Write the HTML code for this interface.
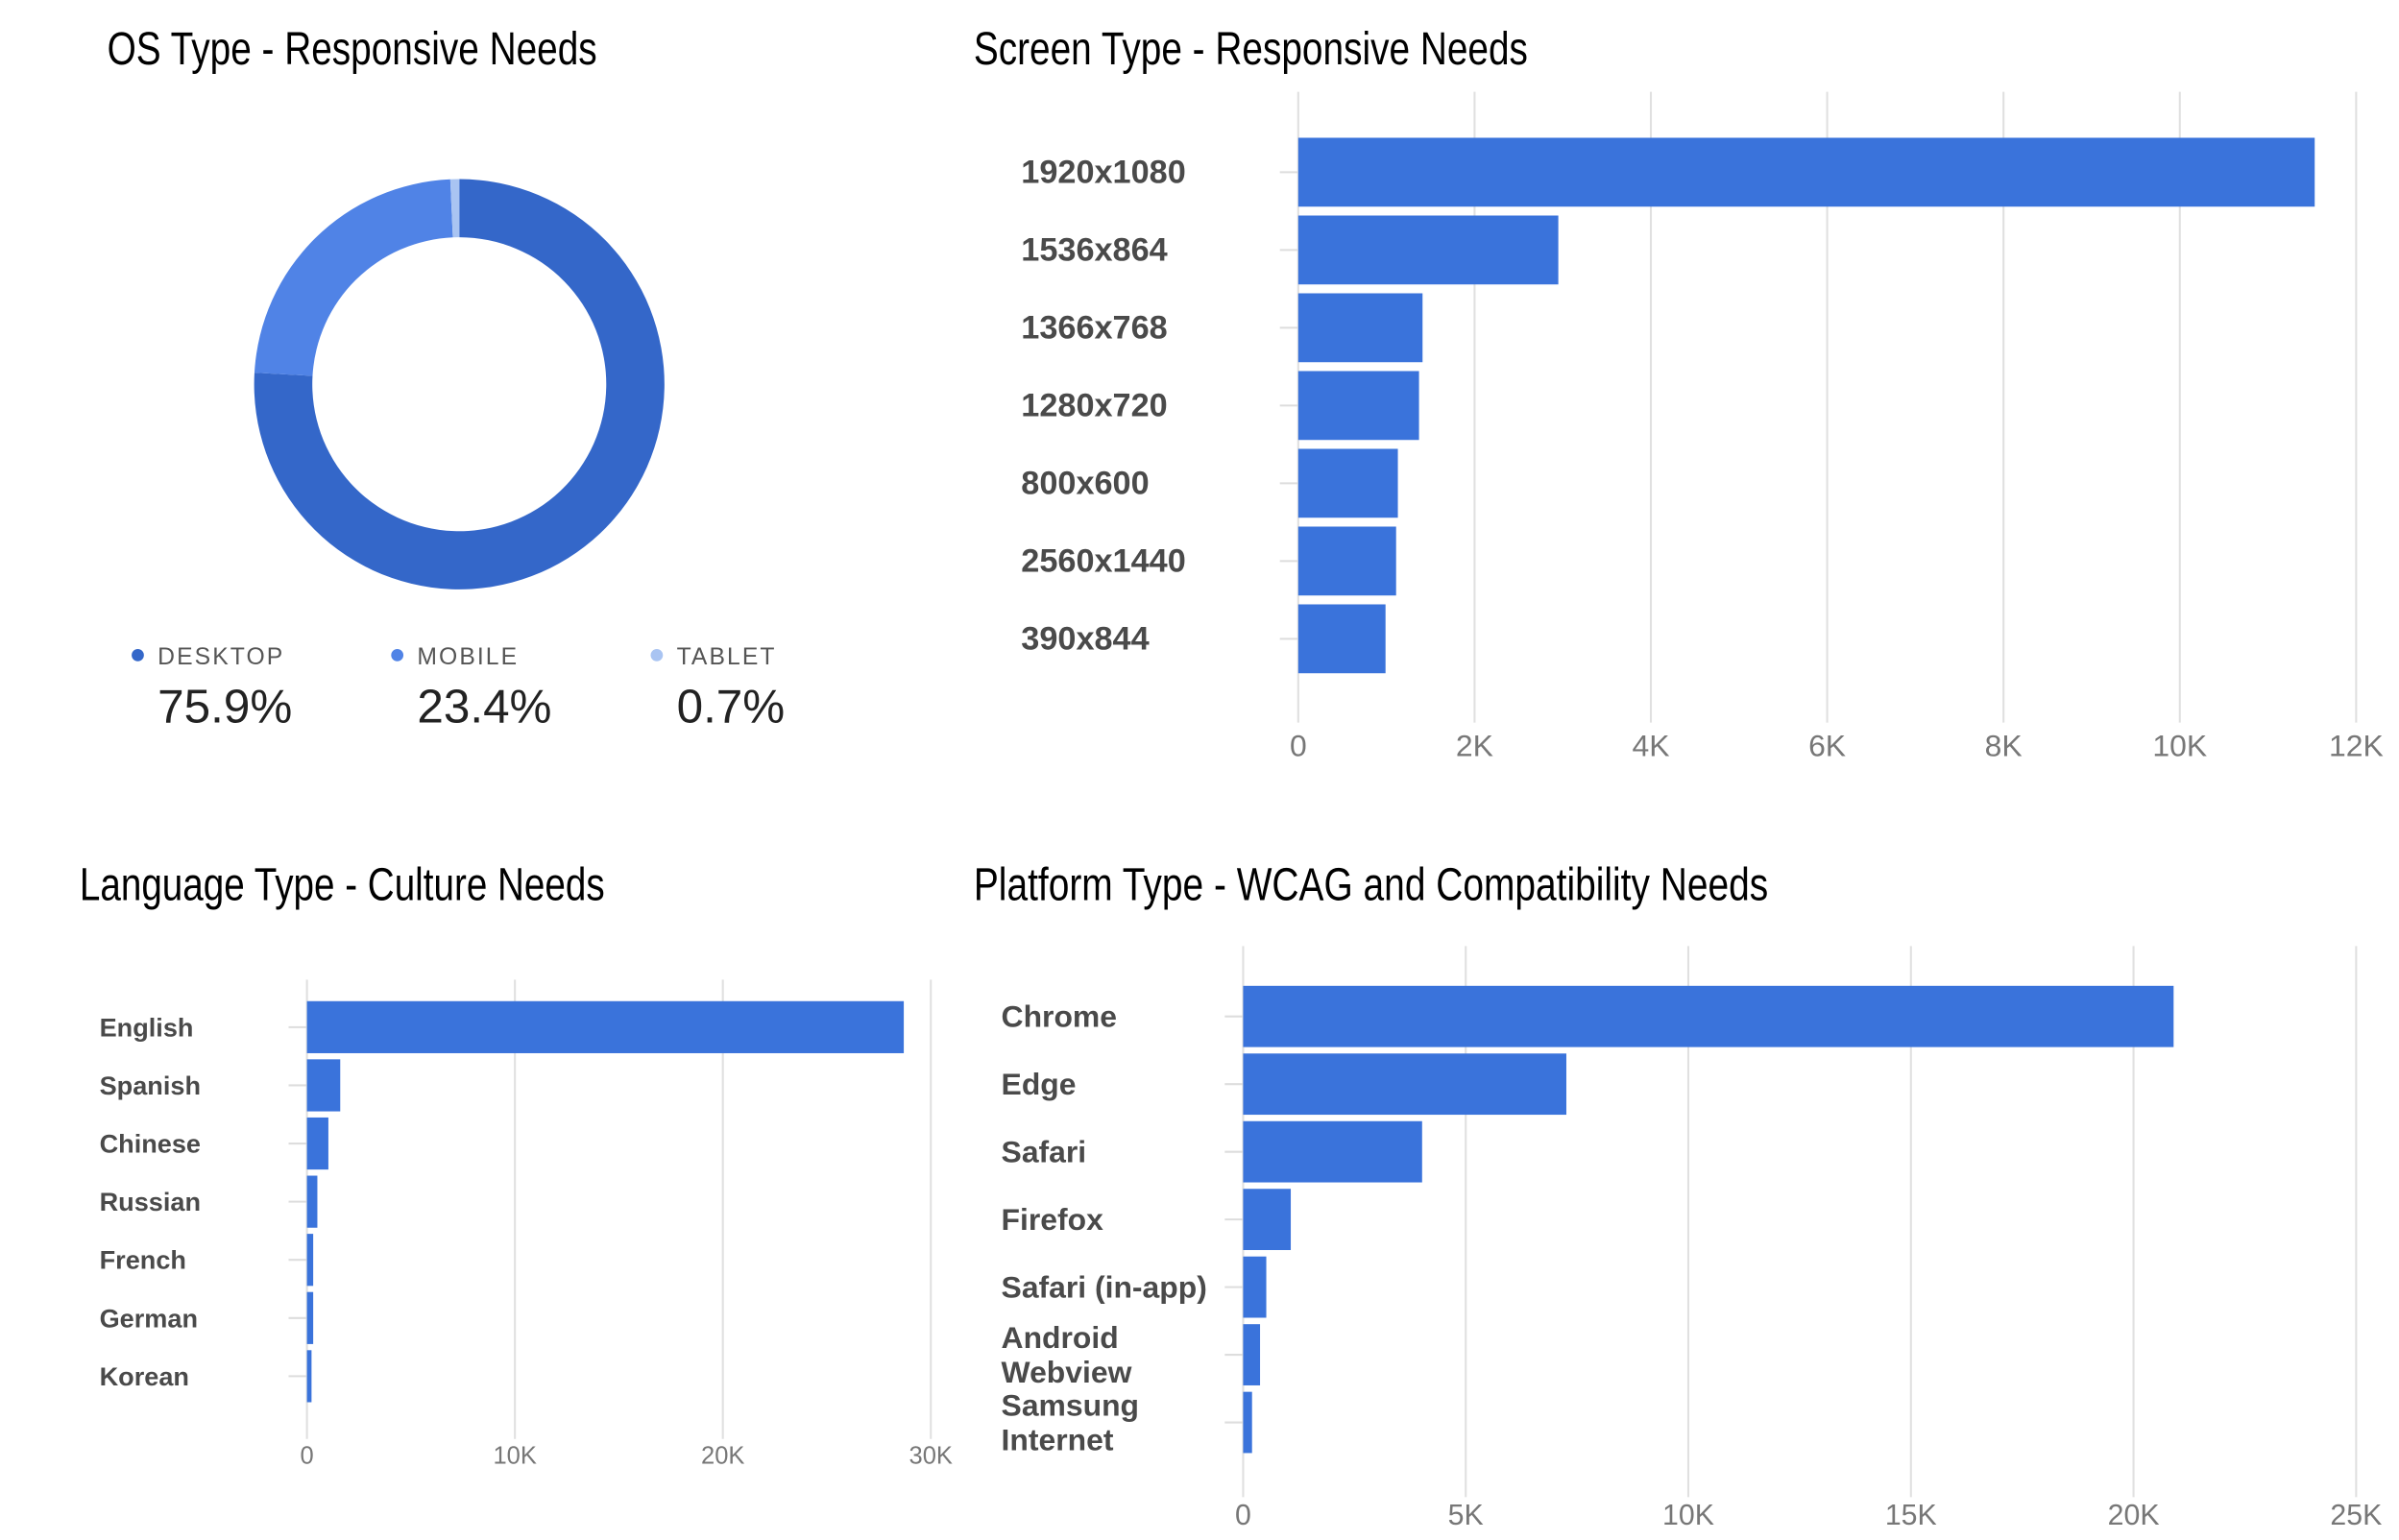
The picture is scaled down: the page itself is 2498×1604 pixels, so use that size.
<!DOCTYPE html>
<html><head><meta charset="utf-8">
<style>
html,body{margin:0;padding:0;background:#fff;}
svg{display:block;}
text{font-family:"Liberation Sans",sans-serif;}
.title{font-size:30px;fill:#000;}
.cat{fill:#4a4a4a;font-weight:bold;}
.tick{fill:#777;}
</style></head>
<body>
<svg id="s" width="2498" height="1604" viewBox="0 0 1567 1006" preserveAspectRatio="none" xmlns="http://www.w3.org/2000/svg">
<text class="title" x="70" y="42" textLength="320" lengthAdjust="spacingAndGlyphs">OS Type - Responsive Needs</text>
<text class="title" x="636" y="42" textLength="362" lengthAdjust="spacingAndGlyphs">Screen Type - Responsive Needs</text>
<text class="title" x="52" y="588" textLength="343" lengthAdjust="spacingAndGlyphs">Language Type - Culture Needs</text>
<text class="title" x="636" y="588" textLength="519" lengthAdjust="spacingAndGlyphs">Platform Type - WCAG and Compatibility Needs</text>
</svg>
<script>
const osLabels=["DESKTOP","MOBILE","TABLET"];
const osValues=[75.9,23.4,0.7];
const osColors=["#3467c9","#5083e6","#a9c4f2"];

const screenCats=["1920x1080","1536x864","1366x768","1280x720","800x600","2560x1440","390x844"];
const screenVals=[11530,2950,1410,1370,1130,1110,990];
const screenTicks=[0,2000,4000,6000,8000,10000,12000];
const screenTickLabels=["0","2K","4K","6K","8K","10K","12K"];

const langCats=["English","Spanish","Chinese","Russian","French","German","Korean"];
const langVals=[28700,1600,1030,500,300,300,220];
const langTicks=[0,10000,20000,30000];
const langTickLabels=["0","10K","20K","30K"];

const platCats=[["Chrome"],["Edge"],["Safari"],["Firefox"],["Safari (in-app)"],["Android","Webview"],["Samsung","Internet"]];
const platVals=[20900,7260,4020,1070,520,380,200];
const platTicks=[0,5000,10000,15000,20000,25000];
const platTickLabels=["0","5K","10K","15K","20K","25K"];

const svg=document.getElementById('s');
const NS="http://www.w3.org/2000/svg";
function mk(tag,attrs,parent){const e=document.createElementNS(NS,tag);for(const k in attrs)e.setAttribute(k,attrs[k]);(parent||svg).appendChild(e);return e;}

(function(){
  const cx=300,cy=251,R=134,r=96;
  const total=osValues.reduce((a,b)=>a+b,0);
  let a0=0;
  osValues.forEach((v,i)=>{
    const a1=a0+v/total*Math.PI*2;
    const p=(ang,rad)=>[cx+rad*Math.sin(ang),cy-rad*Math.cos(ang)];
    const large=(a1-a0)>Math.PI?1:0;
    const [x1,y1]=p(a0,R),[x2,y2]=p(a1,R),[x3,y3]=p(a1,r),[x4,y4]=p(a0,r);
    const path=mk('path',{d:`M${x1},${y1}A${R},${R} 0 ${large} 1 ${x2},${y2}L${x3},${y3}A${r},${r} 0 ${large} 0 ${x4},${y4}Z`,fill:osColors[i]});
    
    
    a0=a1;
    const lx=90+i*169.5;
    const dot=mk('circle',{cx:lx,cy:428,r:4,fill:osColors[i]});
    
    
    const t=mk('text',{x:lx+13,y:434,'font-size':15.5,fill:'#555','letter-spacing':'1.3'});
    t.textContent=osLabels[i];
    
    
    const vt=mk('text',{x:lx+13,y:472,'font-size':31,fill:'#222'});
    vt.textContent=v.toFixed(1)+'%';
    
    
  });
})();

function barChart(o){
  const sx=v=>o.x0+(v/o.max)*(o.x1-o.x0);
  o.ticks.forEach((tv,i)=>{
    const g=mk('line',{x1:sx(tv),x2:sx(tv),y1:o.gy0,y2:o.gy1,stroke:'#e0e0e0','stroke-width':1.3});
    
    
    const t=mk('text',{x:sx(tv),y:o.tickY,'font-size':o.tickSize,'text-anchor':'middle',class:'tick'});
    t.textContent=o.tickLabels[i];
    
    
  });
  o.cats.forEach((c,i)=>{
    const cy=o.y0+i*o.pitch;
    const tk=mk('line',{x1:sx(0)-12,x2:sx(0),y1:cy,y2:cy,stroke:'#ddd','stroke-width':1.3});
    
    
    const b=mk('rect',{x:sx(0),y:cy-o.bh/2,width:sx(o.vals[i])-sx(0),height:o.bh,fill:'#3a73db'});
    
    
    const lines=Array.isArray(c)?c:[c];
    const lh=o.labelSize*1.12;
    lines.forEach((ln,j)=>{
      const t=mk('text',{x:o.lx,y:cy+(j-(lines.length-1)/2)*lh,'font-size':o.labelSize,'dominant-baseline':'central',class:'cat'});
      t.textContent=ln;
      
      
    });
  });
}
barChart({id:'screen',cats:screenCats,vals:screenVals,ticks:screenTicks,tickLabels:screenTickLabels,max:12000,x0:848,x1:1539,gy0:60,gy1:472,y0:112.5,pitch:50.8,bh:45,lx:667,labelSize:21.5,tickY:494,tickSize:20});
barChart({id:'language',cats:langCats,vals:langVals,ticks:langTicks,tickLabels:langTickLabels,max:30000,x0:200.5,x1:608,gy0:640,gy1:940,y0:671,pitch:38,bh:34,lx:65,labelSize:17,tickY:956,tickSize:16});
barChart({id:'platform',cats:platCats,vals:platVals,ticks:platTicks,tickLabels:platTickLabels,max:25000,x0:812,x1:1539,gy0:618,gy1:978,y0:664,pitch:44.2,bh:40,lx:654,labelSize:20,tickY:996,tickSize:19});
</script>
</body></html>
